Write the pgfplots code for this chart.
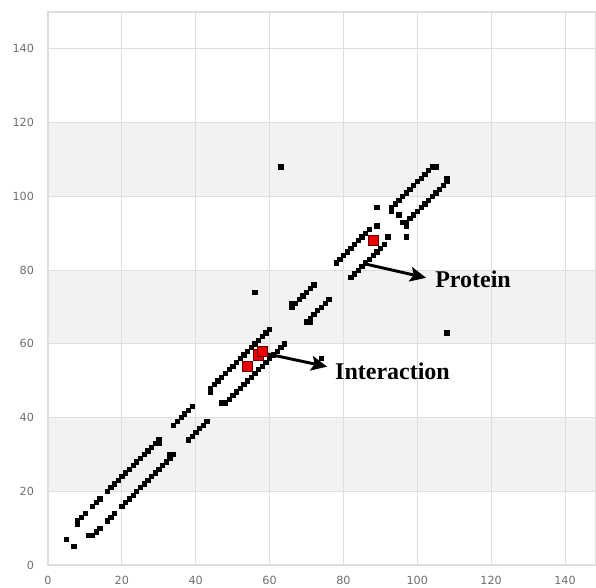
\documentclass[border=0pt]{standalone}
\usepackage{pgfplots}
\pgfplotsset{compat=1.18}
\usepackage{fontspec}
\setmainfont{DejaVu Sans}
\newfontfamily\annofont{Liberation Serif}
\usetikzlibrary{arrows.meta}
\definecolor{band}{RGB}{242,242,242}
\definecolor{gridc}{RGB}{222,222,222}
\definecolor{tickc}{RGB}{110,110,110}
\definecolor{redsq}{RGB}{235,0,0}
\begin{document}
\begin{tikzpicture}
\begin{axis}[
 set layers=standard,
 at={(0,0)}, anchor=south west,
 scale only axis, width=411pt, height=414.75pt,
 xmin=0, xmax=148.4, ymin=0, ymax=150,
 xtick={0,20,...,140}, ytick={0,20,...,140},
 grid=major, grid style={draw=gridc, line width=0.6pt},
 axis line style={draw=gridc, line width=0.8pt},
 major tick length=0pt,
 ticklabel style={font=\fontsize{8.4}{9}\selectfont, text=tickc},
 /pgf/number format/assume math mode=true,
 xticklabel style={yshift=-4.8pt},
 yticklabel style={xshift=-7pt},
]
\begin{pgfonlayer}{axis background}
\fill[band] (axis cs:0,20) rectangle (axis cs:148.4,40);
\fill[band] (axis cs:0,60) rectangle (axis cs:148.4,80);
\fill[band] (axis cs:0,100) rectangle (axis cs:148.4,120);
\end{pgfonlayer}
\addplot[only marks, mark=square*, mark size=1.6pt, black] table {
x y
5 7
8 11
8 12
9 13
10 14
12 16
13 17
14 18
16 20
17 21
18 22
19 23
20 24
21 25
22 26
23 27
24 28
25 29
26 30
27 31
28 32
29 33
30 33
30 34
34 38
35 39
36 40
37 41
38 42
39 43
44 47
44 48
45 49
46 50
47 51
48 52
49 53
50 54
51 55
52 56
53 57
54 58
55 59
56 60
57 61
58 62
59 63
60 64
56 74
63 108
66 70
66 71
67 71
68 72
69 73
70 74
71 75
72 76
78 82
79 83
80 84
81 85
82 86
83 87
84 88
85 89
86 90
87 91
89 92
89 97
93 96
93 97
94 98
95 99
96 100
97 101
98 102
99 103
100 104
101 105
102 106
103 107
104 108
105 108
95 95
7 5
11 8
12 8
13 9
14 10
16 12
17 13
18 14
20 16
21 17
22 18
23 19
24 20
25 21
26 22
27 23
28 24
29 25
30 26
31 27
32 28
33 29
33 30
34 30
38 34
39 35
40 36
41 37
42 38
43 39
47 44
48 44
49 45
50 46
51 47
52 48
53 49
54 50
55 51
56 52
57 53
58 54
59 55
60 56
61 57
62 58
63 59
64 60
74 56
108 63
70 66
71 66
71 67
72 68
73 69
74 70
75 71
76 72
82 78
83 79
84 80
85 81
86 82
87 83
88 84
89 85
90 86
91 87
92 89
97 89
96 93
97 92
97 93
98 94
99 95
100 96
101 97
102 98
103 99
104 100
105 101
106 102
107 103
108 104
108 105
};
\addplot[only marks, mark=square*, mark size=3.8pt, mark options={fill=redsq, draw=black!60!red, line width=0.5pt}] table {
x y
54 54
57 57
58 58
88 88
};
\draw[line width=2.2pt, -{Stealth[length=12pt,width=11pt,inset=2.5pt]}] (axis cs:85.3,81.8) -- (axis cs:102.4,77.9);
\draw[line width=2.2pt, -{Stealth[length=12pt,width=11pt,inset=2.5pt]}] (axis cs:59.2,57.3) -- (axis cs:75.6,53.8);
\node[anchor=base west, inner sep=0pt, font=\annofont\bfseries\fontsize{18}{20}\selectfont] at (axis cs:104.8,75.4) {Protein};
\node[anchor=base west, inner sep=0pt, font=\annofont\bfseries\fontsize{18}{20}\selectfont] at (axis cs:77.7,50.4) {Interaction};
\end{axis}
\pgfresetboundingbox
\path[use as bounding box] (-36pt,-16.5pt) rectangle (411pt,423.75pt);
\end{tikzpicture}
\end{document}
